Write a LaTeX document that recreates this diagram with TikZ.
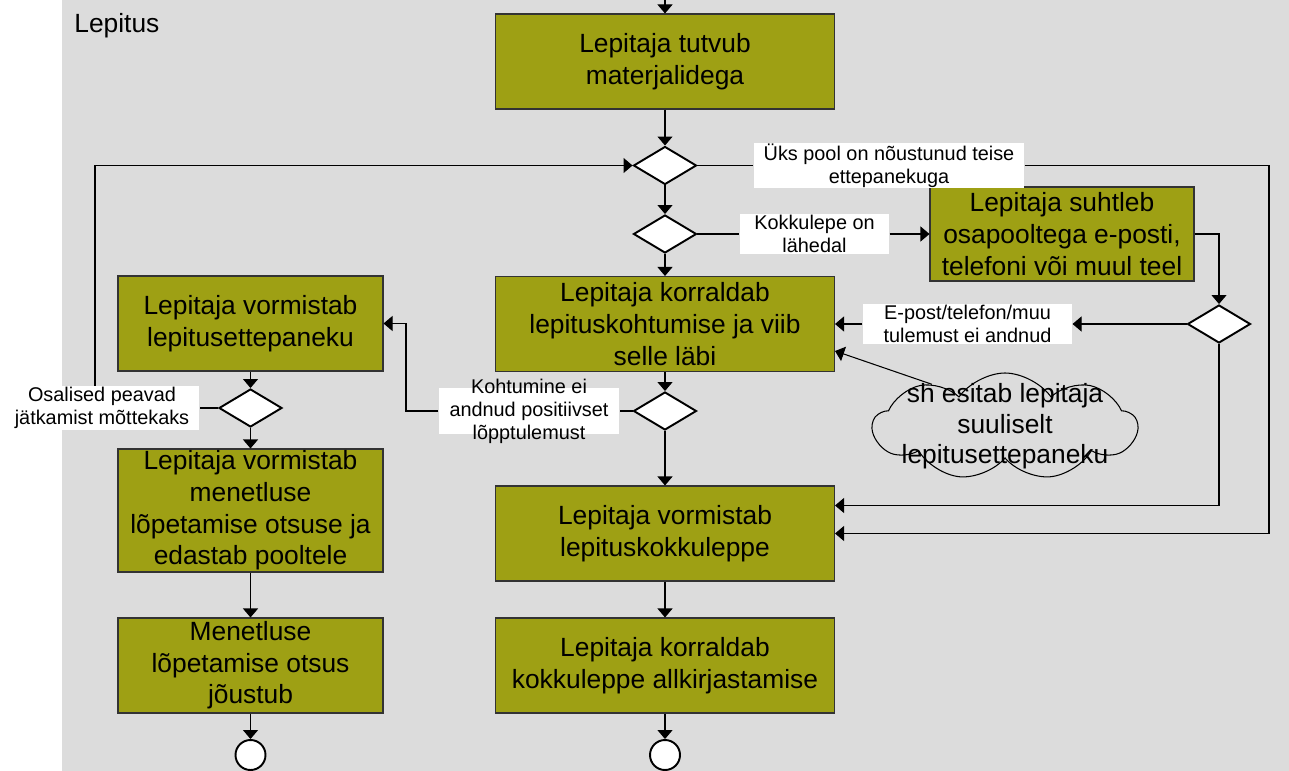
\documentclass[tikz,border=0pt]{standalone}
\usepackage{fontspec}
\setmainfont{Liberation Sans}
\usetikzlibrary{shapes.geometric,shapes.symbols,arrows.meta}
\definecolor{actfill}{RGB}{158,160,20}
\definecolor{lanegray}{RGB}{220,220,220}

\begin{document}
\begin{tikzpicture}[>={Triangle[length=0.18cm,width=0.3cm]},line width=0.6pt,
  every node/.style={font=\fontsize{15}{18}\selectfont},
  act/.style={draw=black!80,fill=actfill,align=center,minimum width=6.78cm,minimum height=1.9cm,inner sep=1pt},
  actl/.style={act,minimum width=5.3cm},
  decis/.style={draw,line width=1.1pt,fill=white,diamond,minimum width=1.26cm,minimum height=0.76cm,inner sep=0pt},
  lbl/.style={fill=white,align=center,font=\fontsize{11.3}{13.1}\selectfont,inner xsep=0.15cm,inner ysep=0.02cm},
  fin/.style={draw,line width=1.1pt,fill=white,circle,minimum size=0.6cm,inner sep=0pt}]
\useasboundingbox (0,0) rectangle (25.78,-15.42);
\fill[lanegray] (1.24,0) rectangle (25.78,-15.42);
\node[anchor=base west] (lane) at (1.36,-0.65) {Lepitus};
% middle column
\node[act] (tutvub) at (13.3,-1.23) {Lepitaja tutvub\\materjalidega};
\node[decis] (d1) at (13.3,-3.31) {};
\node[decis] (d2) at (13.3,-4.68) {};
\node[act,minimum width=5.28cm,minimum height=1.88cm] (suhtleb) at (21.24,-4.68) {Lepitaja suhtleb\\osapooltega e-posti,\\telefoni või muul teel};
\node[act] (korr) at (13.3,-6.48) {Lepitaja korraldab\\lepituskohtumise ja viib\\selle läbi};
\node[decis] (d4) at (24.38,-6.48) {};
\node[decis] (d5) at (13.3,-8.22) {};
\node[act] (kokk) at (13.3,-10.67) {Lepitaja vormistab\\lepituskokkuleppe};
\node[act] (allk) at (13.3,-13.31) {Lepitaja korraldab\\kokkuleppe allkirjastamise};
\node[fin] (f2) at (13.3,-15.1) {};
% left column
\node[actl] (vettep) at (5.01,-6.47) {Lepitaja vormistab\\lepitusettepaneku};
\node[decis] (d3) at (5.01,-8.16) {};
\node[actl,minimum height=2.46cm] (menet) at (5.01,-10.21) {Lepitaja vormistab\\menetluse\\lõpetamise otsuse ja\\edastab pooltele};
\node[actl] (joust) at (5.01,-13.31) {Menetluse\\lõpetamise otsus\\jõustub};
\node[fin] (f1) at (5.01,-15.1) {};
% labels
\node[lbl,minimum width=5.4cm] (uks) at (17.78,-3.31) {Üks pool on nõustunud teise\\ettepanekuga};
\node[lbl,minimum width=2.98cm] (kokkl) at (16.29,-4.68) {Kokkulepe on\\lähedal};
\node[lbl,minimum width=4.18cm] (epost) at (19.35,-6.48) {E-post/telefon/muu\\tulemust ei andnud};
\node[lbl,minimum width=3.6cm,inner ysep=-0.18cm] (kohtu) at (10.58,-8.22) {Kohtumine ei\\andnud positiivset\\lõpptulemust};
\node[lbl,minimum width=3.88cm] (osal) at (2.04,-8.16) {Osalised peavad\\jätkamist mõttekaks};
\node[cloud,draw,cloud puffs=9,cloud puff arc=110,aspect=2.4,minimum width=5.28cm,minimum height=2.14cm,inner sep=0pt,
  label={[align=center,font=\fontsize{15}{17.3}\selectfont]center:sh esitab lepitaja\\suuliselt\\lepitusettepaneku}] (cloud) at (20.1,-8.53) {};
% connectors
\coordinate (entry) at (13.3,0);
\draw[->] (entry) -- (tutvub);
\draw[->] (tutvub) -- (d1);
\draw[->] (d1) -- (d2);
\draw[->] (d2) -- (korr);
\draw[->] (d2) -- (kokkl) -- (suhtleb);
\draw[->] (suhtleb) -| (d4);
\draw[->] (d4) -- (epost);
\draw[->] (epost) -- (korr);
\draw[->] (d4) |- ([yshift=0.56cm]kokk.east);
\draw[->] (d1) -- (uks) -| (25.38,-8) |- (kokk);
\draw[->] (korr) -- (d5);
\draw[->] (d5) -- (kokk);
\draw[->] (d5) -- (kohtu) -| (8.12,-7) |- (vettep);
\draw[->] (kokk) -- (allk);
\draw[->] (allk) -- (f2);
\draw[->] (vettep) -- (d3);
\draw[->] (d3) -- (menet);
\draw[->] (menet) -- (joust);
\draw[->] (joust) -- (f1);
\draw (d3) -- (osal);
\draw[->] ([xshift=-0.14cm]osal.north) |- (d1);
\draw[->] (cloud.150) -- ([yshift=-0.54cm]korr.east);
\end{tikzpicture}
\end{document}
